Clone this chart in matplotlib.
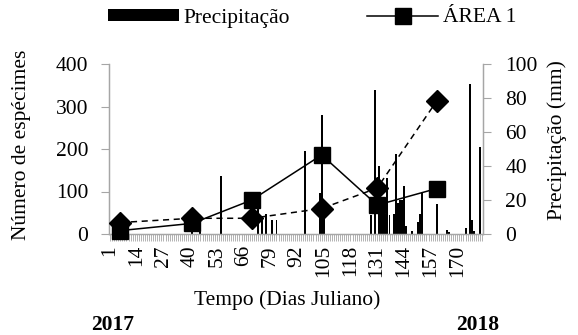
import matplotlib
matplotlib.use('Agg')
import matplotlib.pyplot as plt
from matplotlib.transforms import ScaledTranslation
import numpy as np

plt.rcParams['font.family'] = ['Liberation Serif', 'DejaVu Serif']

# daily categories (Julian days)
n_days = 182
tick_days = list(range(1, n_days + 1, 13))

# precipitation (mm) on rainy days
rain_days = [41, 45, 55, 73, 75, 77, 80, 82, 96, 103, 104, 105, 128, 130, 132, 133,
             134, 135, 136, 137, 139, 140, 141, 142, 143, 144, 145, 148, 151, 152,
             153, 160, 165, 166, 174, 176, 177, 178, 181]
rain_mm = [1, 1, 34, 24, 8, 12, 8, 8, 49, 24, 70, 20, 11, 85, 40, 20,
           15, 12, 33, 11, 12, 47, 18, 20, 20, 28, 5, 1.5, 7, 12,
           25, 17.5, 2.4, 1, 3.7, 88, 8, 1.5, 51]

# specimen counts at sampling dates
sample_days = [6, 41, 70, 104, 131, 160]
area1 = [8, 25, 80, 186, 68, 107]
area2 = [27, 37, 37, 60, 108, 313]

grey = '#a6a6a6'
fs = 15.5

fig = plt.figure(figsize=(5.78, 3.35), dpi=100)
ax = fig.add_axes([109 / 578, 1 - 234 / 335, 374 / 578, 170 / 335])
ax2 = ax.twinx()

ax2.bar(rain_days, rain_mm, width=0.95, color='black', label='Precipitação', zorder=2)

l1, = ax.plot(sample_days, area1, '-', color='black', lw=1.1, marker='s', ms=12,
              label='ÁREA 1', clip_on=False, zorder=3)
ax.plot(sample_days, area2, '--', color='black', lw=1.1, marker='D', ms=11,
        clip_on=False, zorder=3, dashes=(4, 3))

ax.set_xlim(0.5, n_days + 0.5)
ax.set_ylim(0, 400)
ax2.set_ylim(0, 100)
ax.set_yticks([0, 100, 200, 300, 400])
ax2.set_yticks([0, 20, 40, 60, 80, 100])

ax.set_xticks(range(1, n_days + 1))
ax.set_xticklabels([str(d) if d in tick_days else '' for d in range(1, n_days + 1)],
                   rotation=90, fontsize=fs)
shift = ScaledTranslation(6 / 100, 0, fig.dpi_scale_trans)
for lab in ax.get_xticklabels():
    lab.set_transform(lab.get_transform() + shift)
ax.tick_params(axis='x', length=5, width=0.6, color=grey, pad=3)
ax.tick_params(axis='y', length=6, width=0.8, color=grey, pad=9, labelsize=fs)
ax2.tick_params(axis='y', length=6, width=0.8, color=grey, pad=10, labelsize=fs)

for a in (ax, ax2):
    a.spines['top'].set_visible(False)
    for s in ('left', 'right', 'bottom'):
        a.spines[s].set_color(grey)
        a.spines[s].set_linewidth(0.9)
ax.set_zorder(ax2.get_zorder() + 1)
ax.patch.set_visible(False)

fig.text(22 / 578, 1 - 145 / 335, 'Número de espécimes', rotation=90,
         ha='center', va='center', fontsize=fs)
fig.text(557 / 578, 1 - 140 / 335, 'Precipitação (mm)', rotation=90,
         ha='center', va='center', fontsize=fs)
fig.text(287 / 578, 1 - 300 / 335, 'Tempo (Dias Juliano)', ha='center', va='center',
         fontsize=fs)
fig.text(113 / 578, 1 - 325 / 335, '2017', ha='center', va='center',
         fontsize=fs, fontweight='bold')
fig.text(478 / 578, 1 - 325.5 / 335, '2018', ha='center', va='center',
         fontsize=fs, fontweight='bold')

h2, lab2 = ax2.get_legend_handles_labels()
fig.legend(h2 + [l1], lab2 + ['ÁREA 1'], loc='center', bbox_to_anchor=(312 / 578, 1 - 18 / 335),
           ncol=2, frameon=False, fontsize=fs, handlelength=3.3, handleheight=0.5,
           columnspacing=3.6, handletextpad=0.2, borderaxespad=0)

fig.savefig('out.png', dpi=100)
